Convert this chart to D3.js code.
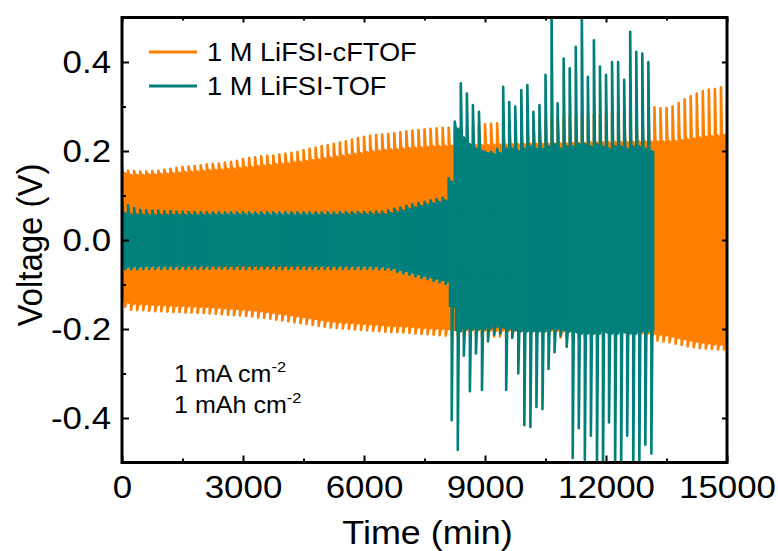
<!DOCTYPE html>
<html>
<head>
<meta charset="utf-8">
<script src="https://cdn.jsdelivr.net/npm/d3@7"></script>
<style>
  body { margin: 0; background: #fff; }
  text { font-family: "Liberation Sans", Arial, sans-serif; fill: #000; }
</style>
</head>
<body>
<script>
// ---- data ----
const seriesNames = ["1 M LiFSI-cFTOF", "1 M LiFSI-TOF"];
const seriesColors = ["#ff8000", "#007f7b"];
const xTicks = [0, 3000, 6000, 9000, 12000, 15000];
const xMinorTicks = [1500, 4500, 7500, 10500, 13500];
const yTicks = [-0.4, -0.2, 0.0, 0.2, 0.4];
const yMinorTicks = [-0.3, -0.1, 0.1, 0.3];
const cycleMinutes = 150; // one plating + stripping cycle
const relaxMinutes = 25;  // overshoot decays to the plateau

// cFTOF, mV per cycle: overshoot at start of each half and the plateau after it
const cftofUpPeak = [168,156,155,154,154,155,156,158,160,162,
  164,165,166,168,170,171,172,174,176,178,
  182,184,186,188,189,190,192,194,196,198,
  202,205,208,211,213,216,219,222,226,229,
  232,234,236,237,238,240,242,244,246,247,
  249,250,251,252,252,253,254,255,256,258,
  260,261,262,262,263,264,265,266,267,268,
  270,272,274,276,277,278,279,280,282,283,
  285,286,287,288,289,290,291,292,298,296,
  297,300,308,316,323,329,335,338,339,343];
const cftofUpEnd = [150,146,146,146,147,147,148,149,150,151,
  152,153,154,155,156,157,158,159,160,161,
  163,164,166,167,168,170,171,172,174,175,
  177,179,181,183,185,187,189,191,193,195,
  197,199,200,202,203,204,205,206,207,208,
  209,210,210,211,211,212,212,212,213,213,
  213,214,214,214,215,215,215,216,216,216,
  216,217,217,217,218,218,218,219,219,219,
  219,220,220,220,220,221,221,221,221,221,
  222,222,224,226,228,230,232,233,234,236];
const cftofDownPeak = [150,157,158,158,159,160,160,161,162,162,
  163,163,164,164,165,166,167,168,169,170,
  171,172,174,175,177,179,181,183,185,187,
  189,191,193,195,197,198,199,200,201,202,
  203,204,205,206,207,207,208,209,210,211,
  212,213,214,215,215,216,216,216,216,217,
  217,217,217,217,218,218,218,218,218,218,
  218,218,219,219,219,219,220,220,220,220,
  220,221,221,222,222,223,224,225,226,228,
  230,233,236,239,241,243,244,245,246,246];
const cftofDownEnd = [140,143,144,144,145,146,146,147,148,148,
  149,149,150,150,151,152,153,154,155,156,
  157,158,160,161,163,165,167,169,171,173,
  175,177,179,181,183,184,185,186,187,188,
  189,190,191,192,193,193,194,195,196,197,
  198,199,200,200,201,201,202,202,202,203,
  203,203,203,203,204,204,204,204,204,204,
  204,204,205,205,205,205,206,206,206,206,
  206,207,207,208,208,209,210,211,212,214,
  216,219,222,225,228,230,232,234,235,236];

// TOF, mV per cycle
const tofUpPeak = [94,78,72,68,67,66,66,65,65,64,
  64,63,63,63,62,62,62,62,62,62,
  62,62,62,62,62,62,62,62,62,62,
  62,62,62,62,62,62,63,63,63,63,
  63,63,64,64,66,70,73,77,80,83,
  86,89,92,95,139,266,352,329,303,288,
  198,198,205,344,310,300,337,348,288,303,
  371,520,307,408,386,434,520,367,449,390,
  371,400,400,360,468,423,419,400];
const tofUpEnd = [60,57,57,56,56,56,56,56,56,56,
  56,56,56,56,56,56,56,56,56,56,
  56,56,56,56,56,56,56,56,56,56,
  56,56,56,56,56,56,57,57,57,57,
  57,57,58,58,60,63,66,70,73,76,
  79,82,85,88,130,250,230,215,205,200,
  195,192,195,205,205,200,205,210,205,205,
  210,215,205,210,210,215,215,210,215,210,
  205,210,210,205,210,210,205,200];
const tofDownPeak = [66,66,66,65,65,65,65,65,65,65,
  65,65,65,65,65,64,64,65,65,65,
  65,65,65,64,64,65,65,65,65,65,
  65,65,65,65,65,65,65,65,65,65,
  65,65,66,66,67,72,75,78,82,85,
  88,92,95,99,405,472,260,340,255,337,
  228,213,210,337,220,300,416,420,375,380,
  290,252,215,240,490,423,494,440,520,520,
  410,520,520,440,520,520,460,480];
const tofDownEnd = [60,59,59,58,58,58,58,58,58,58,
  58,58,58,58,58,58,58,58,58,58,
  58,58,58,58,58,58,58,58,58,58,
  58,58,58,58,58,58,58,58,58,58,
  58,58,59,60,62,66,69,72,76,79,
  82,86,89,92,150,205,200,200,200,200,
  198,195,195,200,200,205,205,205,205,205,
  200,200,200,205,205,210,210,210,210,205,
  210,210,205,210,210,205,205,200];

// ---- layout ----
const W = 778, H = 551;
const margin = {top: 17.5, right: 51, bottom: 88.5, left: 122};
const iw = W - margin.left - margin.right;
const ih = H - margin.top - margin.bottom;
const stretch = 1.09; // the lettering in the original is a bit wide

const svg = d3.select("body").append("svg")
  .attr("width", W).attr("height", H);
const g = svg.append("g").attr("transform", `translate(${margin.left},${margin.top})`);

const x = d3.scaleLinear().domain([0, 15000]).range([0, iw]);
const y = d3.scaleLinear().domain([-0.5, 0.5]).range([ih, 0]);

svg.append("defs").append("clipPath").attr("id", "plot")
  .append("rect").attr("width", iw).attr("height", ih);

// each half cycle: jump to the overshoot, relax to the plateau, hold, switch sides
function trace(upPeak, upEnd, downPeak, downEnd) {
  const pts = [];
  upPeak.forEach((v, i) => {
    const t0 = i * cycleMinutes;
    const th = t0 + cycleMinutes / 2;
    pts.push([t0, v / 1000], [t0 + relaxMinutes, upEnd[i] / 1000], [th, upEnd[i] / 1000],
             [th, -downPeak[i] / 1000], [th + relaxMinutes, -downEnd[i] / 1000],
             [t0 + cycleMinutes, -downEnd[i] / 1000]);
  });
  return pts;
}

// the dense switching lines fill the space between the two plateaus
function band(upEnd, downEnd) {
  return upEnd.map((v, i) => ({t: i * cycleMinutes, hi: v / 1000, lo: -downEnd[i] / 1000}))
    .concat([{t: upEnd.length * cycleMinutes, hi: upEnd[upEnd.length - 1] / 1000,
              lo: -downEnd[downEnd.length - 1] / 1000}]);
}

const line = d3.line().x(d => x(d[0])).y(d => y(d[1]));
const area = d3.area().curve(d3.curveStepAfter)
  .x(d => x(d.t)).y0(d => y(d.lo)).y1(d => y(d.hi));

const series = [
  {trace: trace(cftofUpPeak, cftofUpEnd, cftofDownPeak, cftofDownEnd), band: band(cftofUpEnd, cftofDownEnd)},
  {trace: trace(tofUpPeak, tofUpEnd, tofDownPeak, tofDownEnd), band: band(tofUpEnd, tofDownEnd)}
];

const plot = g.append("g").attr("clip-path", "url(#plot)");
series.forEach((s, i) => {
  plot.append("path").attr("d", area(s.band))
    .attr("fill", seriesColors[i]).attr("stroke", "none");
  plot.append("path").attr("d", line(s.trace))
    .attr("fill", "none")
    .attr("stroke", seriesColors[i])
    .attr("stroke-width", 2.6)
    .attr("stroke-linejoin", "round");
});

// ---- axes ----
function styleAxis(sel) {
  sel.select(".domain").remove();
  sel.selectAll("line").attr("stroke", "#000").attr("stroke-width", 2);
  sel.selectAll("text").attr("font-size", 32).attr("fill", "#000")
    .attr("font-family", "'Liberation Sans', Arial, sans-serif")
    .attr("transform", `scale(${stretch},1)`);
}

g.append("g").attr("transform", `translate(0,${ih})`)
  .call(d3.axisBottom(x).tickValues(xTicks).tickFormat(d3.format("d")).tickSize(-7).tickPadding(13))
  .call(styleAxis);
g.append("g").attr("transform", `translate(0,${ih})`)
  .call(d3.axisBottom(x).tickValues(xMinorTicks).tickFormat("").tickSize(-4))
  .call(styleAxis);
g.append("g")
  .call(d3.axisTop(x).tickValues(xTicks).tickFormat("").tickSize(-5))
  .call(styleAxis);
g.append("g")
  .call(d3.axisTop(x).tickValues(xMinorTicks).tickFormat("").tickSize(-3))
  .call(styleAxis);

g.append("g")
  .call(d3.axisLeft(y).tickValues(yTicks).tickFormat(d => d.toFixed(1)).tickSize(-7).tickPadding(10))
  .call(styleAxis);
g.append("g")
  .call(d3.axisLeft(y).tickValues(yMinorTicks).tickFormat("").tickSize(-4))
  .call(styleAxis);
g.append("g").attr("transform", `translate(${iw},0)`)
  .call(d3.axisRight(y).tickValues(yTicks).tickFormat("").tickSize(-5))
  .call(styleAxis);

// frame
g.append("rect").attr("width", iw).attr("height", ih)
  .attr("fill", "none").attr("stroke", "#000").attr("stroke-width", 3);

// axis titles
svg.append("text")
  .attr("transform", `translate(${margin.left + iw / 2 + 3},544) scale(${stretch},1)`)
  .attr("text-anchor", "middle").attr("font-size", 33)
  .text("Time (min)");
svg.append("text")
  .attr("transform", `translate(42,245) scale(${stretch},1) rotate(-90)`)
  .attr("text-anchor", "middle").attr("font-size", 33)
  .text("Voltage (V)");

// legend
const legend = svg.append("g").attr("transform", "translate(149,52)");
seriesNames.forEach((name, i) => {
  const row = legend.append("g").attr("transform", `translate(0,${i * 34})`);
  row.append("line").attr("x1", 0).attr("x2", 48)
    .attr("stroke", seriesColors[i]).attr("stroke-width", 3);
  row.append("text").attr("transform", `translate(58,9) scale(${stretch},1)`)
    .attr("font-size", 25).text(name);
});

// test conditions
const notes = [["1 mA cm", "-2"], ["1 mAh cm", "-2"]];
notes.forEach((n, i) => {
  const t = svg.append("text")
    .attr("transform", `translate(174,${382 + i * 31}) scale(${stretch},1)`)
    .attr("font-size", 23);
  t.append("tspan").text(n[0]);
  t.append("tspan").attr("dy", -10).attr("font-size", 15).text(n[1]);
});
</script>
</body>
</html>
